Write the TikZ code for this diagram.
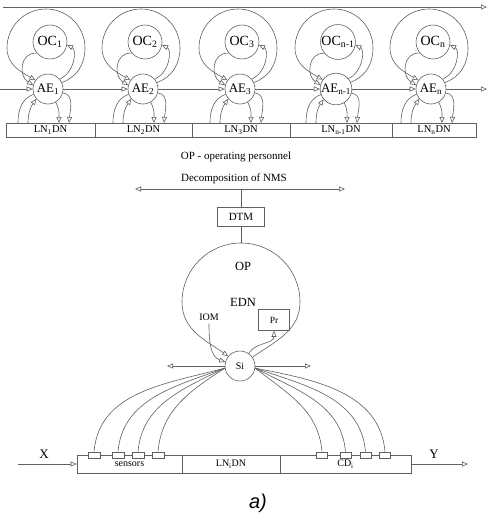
\documentclass[tikz,border=0pt]{standalone}
\usepackage{fontspec}
\setmainfont{Liberation Serif}
\setsansfont{Liberation Sans}
\definecolor{linegray}{RGB}{95, 95, 95}
\usetikzlibrary{arrows.meta, positioning, calc}

\begin{document}
\begin{tikzpicture}[x=1pt, y=1pt,
    wire/.style={draw=linegray, line width=0.6pt},
    link/.style={wire, -{Triangle[open, length=6pt, width=5pt]}},
    twoway/.style={wire, {Triangle[open, length=6pt, width=5pt]}-{Triangle[open, length=6pt, width=5pt]}},
    ocnode/.style={circle, draw=linegray, line width=0.6pt, minimum size=34pt, inner sep=0pt, font=\fontsize{14}{14}\selectfont},
    aenode/.style={circle, draw=linegray, line width=0.6pt, minimum size=30pt, inner sep=0pt, font=\fontsize{13}{13}\selectfont},
    lnbox/.style={rectangle, draw=linegray, line width=0.6pt, minimum height=14pt, inner sep=0pt, font=\fontsize{10.5}{10.5}\selectfont},
    barbox/.style={rectangle, draw=linegray, line width=0.6pt, minimum height=18pt, inner sep=0pt, font=\fontsize{10}{10}\selectfont},
    sensbox/.style={rectangle, draw=linegray, fill=white, line width=0.6pt, minimum width=12pt, minimum height=6pt, inner sep=0pt},
    lbl/.style={inner sep=1pt, font=\fontsize{11}{11}\selectfont}
  ]
  \useasboundingbox (0,0) rectangle (488,-517);

  % upper level: chain of local network nodes
  \coordinate (topL) at (3,-7);
  \coordinate (topR) at (487,-7);
  \draw[link] (topL) -- (topR);

  \foreach \i/\cx/\bl/\br/\sub in {1/48/6/95/1, 2/143/95/192/2, 3/240/192/290/3, 4/336/290/392/n-1, 5/431/392/476/n} {
    \pgfmathsetmacro\bc{(\bl+\br)/2}
    \pgfmathsetmacro\bw{\br-\bl}
    \node[ocnode] (oc\i) at (\cx+2,-42) {OC\textsubscript{\sub}};
    \node[aenode] (ae\i) at (\cx,-89) {AE\textsubscript{\sub}};
    \node[lnbox, minimum width=\bw pt] (ln\i) at (\bc,-130) {LN\textsubscript{\sub}DN};
    % loops around OC and AE
    \draw[link] (ae\i.25) to[out=20,in=-90] (\cx+37,-48) arc[start angle=0, end angle=180, radius=39] to[out=-90,in=150] (ae\i.145);
    \draw[link] (oc\i.220) .. controls (\cx-28,-52) and (\cx-30,-76) .. (ae\i.165);
    \draw[link] (ae\i.40) .. controls (\cx+27,-72) and (\cx+29,-50) .. (oc\i.-10);
    % loops down to the LN box
    \coordinate (ba\i) at (\cx-30,-123);
    \coordinate (bb\i) at (\cx-20,-123);
    \coordinate (bc\i) at (\cx+11,-123);
    \coordinate (bd\i) at (\cx+21,-123);
    \draw[wire] (ae\i.200) to[out=200,in=90] (ba\i);
    \draw[link] (bb\i) to[out=90,in=235] (ae\i.220);
    \draw[link] (ae\i.-15) to[out=-5,in=85] (bd\i);
    \draw[link] (ae\i.-60) to[out=-60,in=90] (bc\i);
  }
  \draw[wire, line width=1.2pt] (ln1.south west) -- (ln5.south east);

  \coordinate (hl) at (0,-89);
  \coordinate (hr) at (487,-89);
  \draw[link] (hl) -- (ae1.west);
  \foreach \i/\j in {1/2, 2/3, 3/4, 4/5}
    \draw[link] (ae\i.east) -- (ae\j.west);
  \draw[link] (ae5.east) -- (hr);

  % lower level: one node in detail
  \node[lbl] (legend) at (236,-157) {OP - operating personnel};
  \node[lbl] (decomp) at (234,-179) {Decomposition of NMS};
  \coordinate (decL) at (135,-189);
  \coordinate (decR) at (345,-189);
  \coordinate (decM) at (241,-189);
  \draw[twoway] (decL) -- (decR);
  \node[rectangle, draw=linegray, line width=0.6pt, minimum width=47pt, minimum height=19pt, inner sep=0pt, font=\fontsize{11}{11}\selectfont] (dtm) at (241,-217) {DTM};
  \draw[wire] (decM) -- (dtm.north);

  \node[circle, draw=linegray, line width=0.6pt, minimum size=30pt, inner sep=0pt, font=\fontsize{10}{10}\selectfont] (si) at (240,-366) {Si};
  \coordinate (optop) at (241,-243);
  \draw[wire] (dtm.south) -- (optop);
  \draw[link] (si.35) to[out=35,in=-90] (300,-302) arc[start angle=0, end angle=180, radius=59] to[out=-90,in=145] (si.140);

  \node[lbl, font=\fontsize{12.5}{12.5}\selectfont] (op) at (243,-266) {OP};
  \node[lbl, font=\fontsize{12.5}{12.5}\selectfont] (edn) at (243,-302) {EDN};
  \node[lbl, font=\fontsize{10}{10}\selectfont, inner sep=3pt] (iom) at (209,-317) {IOM};
  \node[rectangle, draw=linegray, line width=0.6pt, minimum width=31pt, minimum height=21pt, inner sep=0pt, font=\fontsize{9.5}{9.5}\selectfont] (pr) at (274,-320) {Pr};
  \draw[link] (iom.south) to[out=-90,in=160] (si.165);
  \draw[link] (si.55) to[out=60,in=-90] (pr.south);

  \coordinate (siL) at (167,-366);
  \coordinate (siR) at (311,-366);
  \draw[link] (si.west) -- (siL);
  \draw[link] (si.east) -- (siR);

  % bar with sensors and control devices
  \node[barbox, minimum width=105pt] (sbox) at (129.5,-464) {sensors};
  \node[barbox, minimum width=98pt] (libox) at (231,-464) {LN\textsubscript{i}DN};
  \node[barbox, minimum width=131pt] (cdbox) at (345.5,-464) {CD\textsubscript{i}};
  \draw[wire, line width=1.2pt] (sbox.south west) -- (cdbox.south east);

  \foreach \j/\x in {1/94, 2/118, 3/138, 4/158}
    \node[sensbox] (sn\j) at (\x,-455) {};
  \foreach \j/\x in {1/322, 2/345.5, 3/365.5, 4/385}
    \node[sensbox, minimum width=11pt] (cd\j) at (\x,-455) {};

  \foreach \j/\a in {1/195, 2/200, 3/206, 4/213}
    \draw[wire] (sn\j.north) to[out=85,in=\a] (si.188);
  \foreach \j/\a in {1/-38, 2/-28, 3/-19, 4/-11}
    \draw[wire] (si.-8) to[out=\a,in=95] (cd\j.north);

  \node[lbl, font=\fontsize{13}{13}\selectfont] (xlbl) at (44,-454) {X};
  \node[lbl, font=\fontsize{13}{13}\selectfont] (ylbl) at (434,-454) {Y};
  \coordinate (xin) at (18,-464);
  \coordinate (yout) at (468,-464);
  \draw[link] (xin) -- (sbox.west);
  \draw[link] (cdbox.east) -- (yout);

  \node[font=\sffamily\itshape\fontsize{20}{20}\selectfont] (cap) at (258,-503) {a)};
\end{tikzpicture}
\end{document}
